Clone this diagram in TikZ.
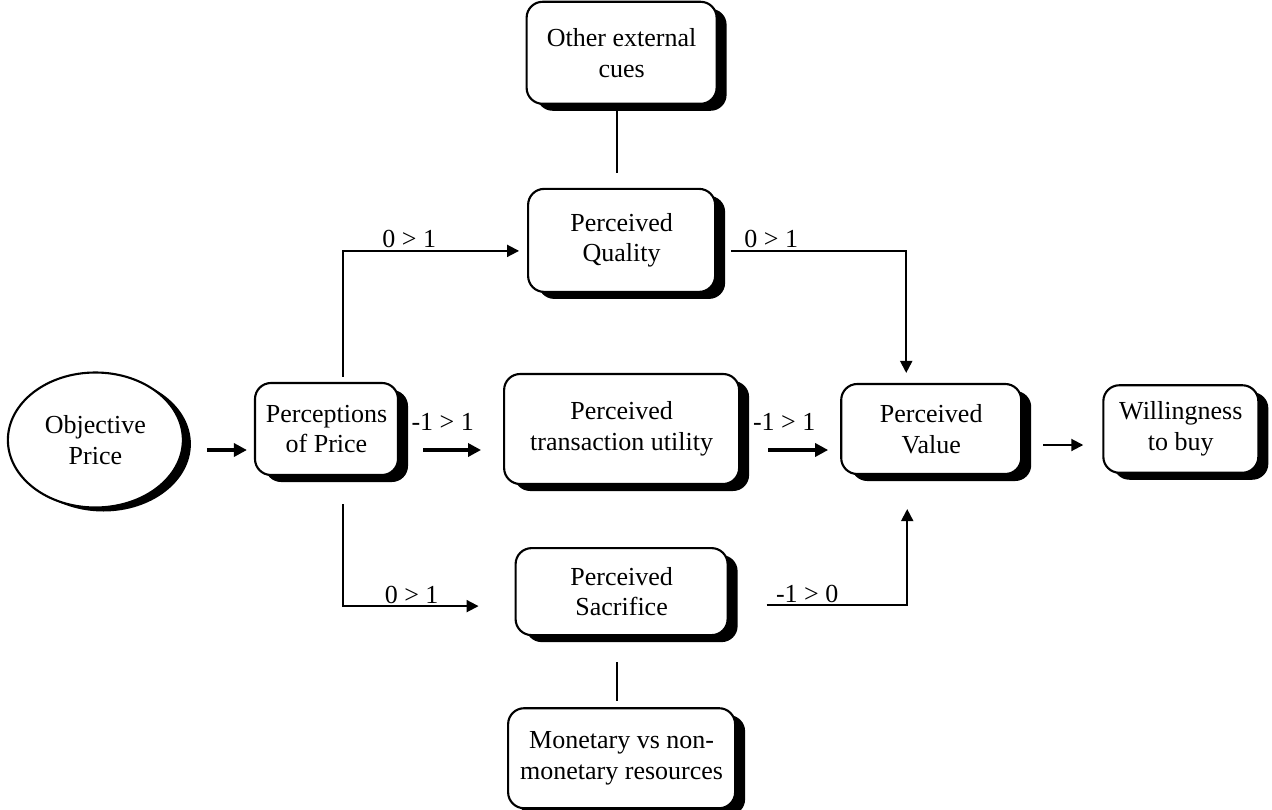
\documentclass[tikz,border=0pt]{standalone}
\usepackage{fontspec}
\setmainfont{Liberation Serif}
\usetikzlibrary{arrows.meta,positioning,shapes.geometric,shadows}

\begin{document}
\begin{tikzpicture}[
  box/.style={draw,fill=white,line width=1.2pt,rounded corners=0.32cm,
    align=center,font=\fontsize{14.8}{17.5}\selectfont,
    drop shadow={shadow xshift=0.2cm,shadow yshift=-0.14cm,fill=black,opacity=1}},
  oval/.style={ellipse,draw,fill=white,line width=1.2pt,align=center,
    minimum width=3.5cm,minimum height=2.7cm,font=\fontsize{14.8}{17.5}\selectfont,
    drop shadow={shadow xshift=0.16cm,shadow yshift=-0.08cm,fill=black,opacity=1}},
  arr/.style={-{Triangle[length=0.24cm,width=0.24cm]},line width=1.1pt},
  fatarr/.style={-{Triangle[length=0.26cm,width=0.26cm]},line width=2.6pt},
  link/.style={line width=1.1pt},
  lbl/.style={font=\fontsize{14.8}{17.5}\selectfont,inner sep=1pt}
]
\useasboundingbox (0,0) rectangle (25.44,-16.2);

% main row
\node[box,minimum width=2.86cm,minimum height=1.84cm] (perc) at (6.53,-8.58) {Perceptions\\of Price};
\node[oval,left=1.4cm of perc,yshift=-0.22cm] (obj) {Objective\\Price};
\node[box,minimum width=4.7cm,minimum height=2.2cm,right=2.08cm of perc] (trans) {Perceived\\transaction utility};
\node[box,minimum width=3.6cm,minimum height=1.8cm,right=2.0cm of trans] (pv) {Perceived\\Value};
\node[box,minimum width=3.1cm,minimum height=1.75cm,right=1.6cm of pv] (wtb) {Willingness\\to buy};

% upper and lower branches
\node[box,minimum width=3.74cm,minimum height=2.06cm,above=1.6cm of trans] (pq) {Perceived\\Quality};
\node[box,minimum width=3.8cm,minimum height=2.04cm,above=1.66cm of pq] (cues) {Other external\\cues};
\node[box,minimum width=4.24cm,minimum height=1.74cm,below=1.24cm of trans] (ps) {Perceived\\Sacrifice};
\node[box,minimum width=4.54cm,minimum height=2.0cm,below=1.42cm of ps] (money) {Monetary vs non-\\monetary resources};

\coordinate (row) at ([yshift=-0.42cm]perc.center);

\draw[fatarr,shorten <=0.46cm,shorten >=0.14cm] (obj.east |- row) -- (perc.west |- row);
\draw[fatarr,shorten <=0.48cm,shorten >=0.44cm] (perc.east |- row) --
  node[lbl,above=0.3cm,pos=0.42] (m1) {-1 > 1} (trans.west |- row);
\draw[fatarr,shorten <=0.56cm,shorten >=0.24cm] (trans.east |- row) --
  node[lbl,above=0.3cm,pos=0.44] (m2) {-1 > 1} (pv.west |- row);
\draw[arr,shorten <=0.42cm,shorten >=0.38cm] ([yshift=-0.32cm]pv.east) -- ([yshift=-0.32cm]wtb.west);

\draw[arr,shorten <=0.1cm,shorten >=0.16cm] ([xshift=0.33cm]perc.north) |-
  node[lbl,above,pos=0.68] (q1) {0 > 1} ([yshift=-0.21cm]pq.west);
\draw[arr,shorten <=0.3cm,shorten >=0.2cm] ([yshift=-0.21cm]pq.east) -|
  node[lbl,above,pos=0.145] (q2) {0 > 1} ([xshift=-0.5cm]pv.north);
\draw[arr,shorten <=0.56cm,shorten >=0.72cm] ([xshift=0.33cm]perc.south) |-
  node[lbl,above,pos=0.7] (s1) {0 > 1} ([yshift=-0.29cm]ps.west);
\draw[arr,shorten <=0.76cm,shorten >=0.68cm] ([yshift=-0.27cm]ps.east) -|
  node[lbl,above,pos=0.22] (s2) {-1 > 0} ([xshift=-0.48cm]pv.south);

\draw[link,shorten <=0.06cm,shorten >=0.3cm] ([xshift=-0.1cm]cues.south) -- ([xshift=-0.1cm]pq.north);
\draw[link,shorten <=0.52cm,shorten >=0.12cm] ([xshift=-0.1cm]ps.south) -- ([xshift=-0.1cm]money.north);
\end{tikzpicture}
\end{document}
